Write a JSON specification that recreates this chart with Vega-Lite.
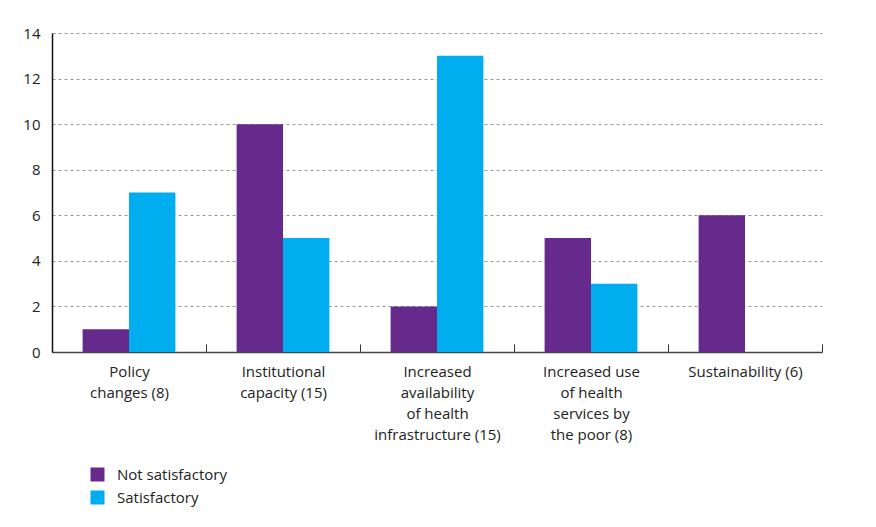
{
  "$schema": "https://vega.github.io/schema/vega-lite/v6.json",
  "autosize": {"type": "none"},
  "width": 770,
  "height": 319,
  "padding": {"left": 52, "top": 33, "right": 54, "bottom": 175},
  "background": "white",
  "data": {
    "values": [
      {"cat": "Policy|changes (8)", "status": "Not satisfactory", "value": 1},
      {"cat": "Policy|changes (8)", "status": "Satisfactory", "value": 7},
      {"cat": "Institutional|capacity (15)", "status": "Not satisfactory", "value": 10},
      {"cat": "Institutional|capacity (15)", "status": "Satisfactory", "value": 5},
      {"cat": "Increased|availability|of health|infrastructure (15)", "status": "Not satisfactory", "value": 2},
      {"cat": "Increased|availability|of health|infrastructure (15)", "status": "Satisfactory", "value": 13},
      {"cat": "Increased use|of health|services by|the poor (8)", "status": "Not satisfactory", "value": 5},
      {"cat": "Increased use|of health|services by|the poor (8)", "status": "Satisfactory", "value": 3},
      {"cat": "Sustainability (6)", "status": "Not satisfactory", "value": 6},
      {"cat": "Sustainability (6)", "status": "Satisfactory", "value": 0}
    ]
  },
  "mark": {"type": "bar"},
  "encoding": {
    "x": {
      "field": "cat",
      "type": "nominal",
      "sort": null,
      "scale": {"paddingInner": 0, "paddingOuter": 0},
      "axis": {
        "title": null,
        "labelAngle": 0,
        "labelExpr": "split(datum.label, '|')",
        "labelFont": "Open Sans",
        "labelFontSize": 15,
        "labelColor": "#222222",
        "labelLineHeight": 21,
        "labelPadding": 20,
        "tickBand": "extent",
        "tickSize": -8,
        "tickColor": "#333333",
        "domainColor": "#444444",
        "domainWidth": 1.5,
        "grid": false
      }
    },
    "xOffset": {"field": "status", "type": "nominal", "scale": {"paddingInner": 0, "paddingOuter": 0.66}},
    "y": {
      "field": "value",
      "type": "quantitative",
      "scale": {"domain": [0, 14]},
      "axis": {
        "title": null,
        "values": [0, 2, 4, 6, 8, 10, 12, 14],
        "labelFont": "Open Sans",
        "labelFontSize": 15,
        "labelColor": "#222222",
        "labelPadding": 12,
        "ticks": false,
        "domainColor": "#111111",
        "domainWidth": 1.5,
        "grid": true,
        "gridColor": "#999999",
        "gridDash": [3, 3],
        "gridWidth": 1
      }
    },
    "color": {
      "field": "status",
      "type": "nominal",
      "scale": {"domain": ["Not satisfactory", "Satisfactory"], "range": ["#662A8C", "#00AEEF"]},
      "legend": {
        "title": null,
        "orient": "none",
        "legendX": 38,
        "legendY": 434,
        "symbolType": "square",
        "symbolSize": 196,
        "symbolStrokeWidth": 0,
        "symbolOpacity": 1,
        "labelFont": "Open Sans",
        "labelFontSize": 15,
        "labelColor": "#222222",
        "rowPadding": 7,
        "labelOffset": 12
      }
    }
  },
  "config": {"view": {"stroke": null}}
}
